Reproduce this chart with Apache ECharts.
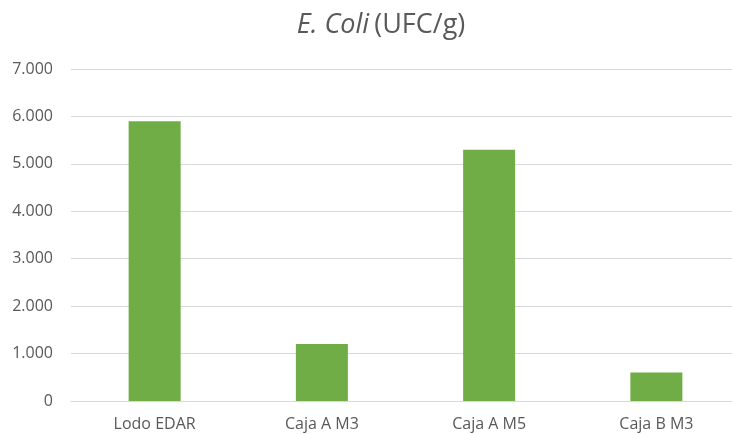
<!DOCTYPE html>
<html>
<head>
<meta charset="utf-8">
<script src="https://cdn.jsdelivr.net/npm/echarts@6/dist/echarts.min.js"></script>
<style>
  html, body { margin: 0; padding: 0; background: #fff; }
  #chart { width: 732px; height: 434px; }
</style>
</head>
<body>
<div id="chart"></div>
<script>
// E. coli counts per sample (UFC/g)
const categories = ['Lodo EDAR', 'Caja A M3', 'Caja A M5', 'Caja B M3'];
const ecoliValues = [5900, 1200, 5300, 600];
const yTicks = { min: 0, max: 7000, interval: 1000 };

const fontFamily = '"Open Sans", "Liberation Sans", sans-serif';
const textColor = '#595959';
const gridColor = '#d9d9d9';

// Spanish thousands separator: 7000 -> 7.000
function formatThousands(v) {
  return String(v).replace(/\B(?=(\d{3})+(?!\d))/g, '.');
}

const chart = echarts.init(document.getElementById('chart'), null, { renderer: 'canvas' });
chart.setOption({
  animation: false,
  backgroundColor: '#ffffff',
  title: {
    text: '{i|E. Coli} {n|(UFC/g)}',
    left: 376,
    textAlign: 'center',
    top: 7,
    textStyle: {
      fontWeight: 'normal',
      rich: {
        i: { fontFamily, fontSize: 27, fontStyle: 'italic', fontWeight: 'normal', color: textColor },
        n: { fontFamily, fontSize: 27, fontWeight: 'normal', color: textColor }
      }
    }
  },
  // the plot runs slightly past the right edge of the canvas
  grid: { left: 71, top: 69, width: 669, bottom: 33, containLabel: false, outerBoundsMode: 'none' },
  xAxis: {
    type: 'category',
    data: categories,
    axisLine: { show: true, lineStyle: { color: gridColor, width: 1 } },
    axisTick: { show: false },
    axisLabel: { color: textColor, fontFamily, fontSize: 16, margin: 15 }
  },
  yAxis: {
    type: 'value',
    min: yTicks.min,
    max: yTicks.max,
    interval: yTicks.interval,
    axisLine: { show: false },
    axisTick: { show: false },
    splitLine: { lineStyle: { color: gridColor, width: 1 } },
    axisLabel: {
      color: textColor, fontFamily, fontSize: 16, margin: 18,
      formatter: formatThousands
    }
  },
  series: [{
    type: 'bar',
    data: ecoliValues,
    barWidth: 52,
    itemStyle: { color: '#70ad47' }
  }]
});
</script>
</body>
</html>
